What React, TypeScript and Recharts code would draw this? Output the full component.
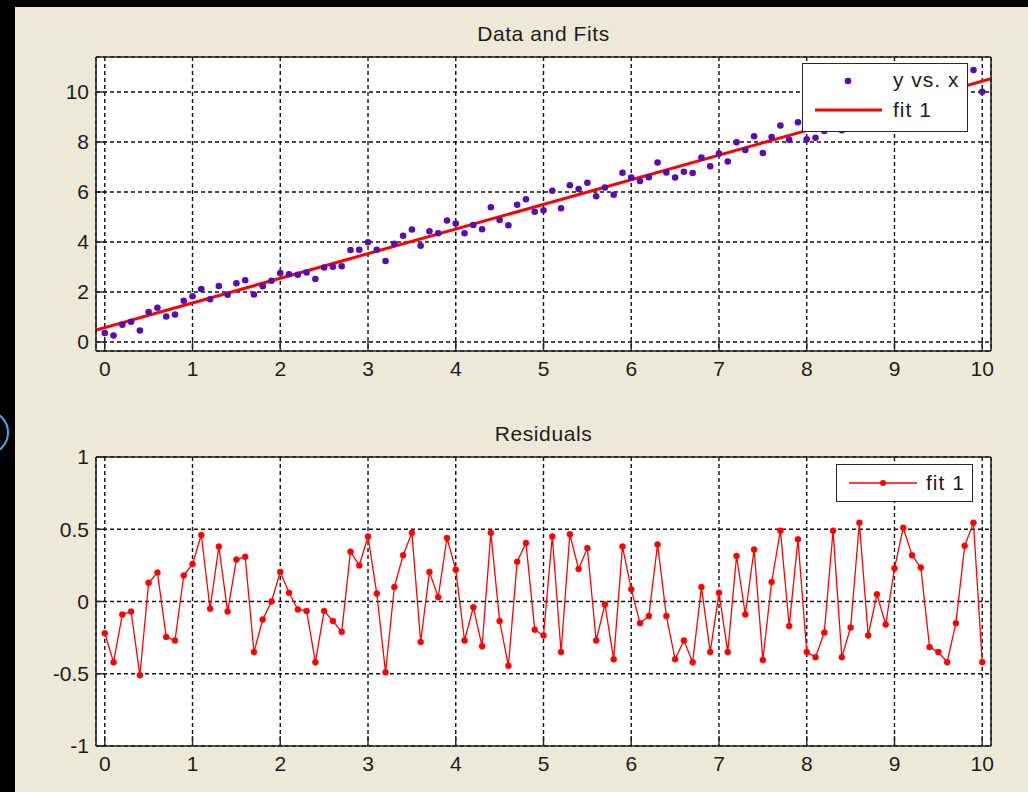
import { ComposedChart, Scatter, Line, XAxis, YAxis, CartesianGrid, Legend } from 'recharts';

const xValues = [
    0, 0.1, 0.2, 0.3, 0.4, 0.5, 0.6, 0.7, 0.8, 0.9,
    1, 1.1, 1.2, 1.3, 1.4, 1.5, 1.6, 1.7, 1.8, 1.9,
    2, 2.1, 2.2, 2.3, 2.4, 2.5, 2.6, 2.7, 2.8, 2.9,
    3, 3.1, 3.2, 3.3, 3.4, 3.5, 3.6, 3.7, 3.8, 3.9,
    4, 4.1, 4.2, 4.3, 4.4, 4.5, 4.6, 4.7, 4.8, 4.9,
    5, 5.1, 5.2, 5.3, 5.4, 5.5, 5.6, 5.7, 5.8, 5.9,
    6, 6.1, 6.2, 6.3, 6.4, 6.5, 6.6, 6.7, 6.8, 6.9,
    7, 7.1, 7.2, 7.3, 7.4, 7.5, 7.6, 7.7, 7.8, 7.9,
    8, 8.1, 8.2, 8.3, 8.4, 8.5, 8.6, 8.7, 8.8, 8.9,
    9, 9.1, 9.2, 9.3, 9.4, 9.5, 9.6, 9.7, 9.8, 9.9,
    10,
];

const yValues = [
    0.36, 0.26, 0.69, 0.81, 0.46, 1.2, 1.37, 1.02, 1.1, 1.65,
    1.83, 2.12, 1.71, 2.24, 1.89, 2.35, 2.47, 1.9, 2.23, 2.45,
    2.76, 2.71, 2.69, 2.78, 2.52, 2.98, 3.01, 3.03, 3.68, 3.69,
    3.99, 3.69, 3.24, 3.93, 4.25, 4.5, 3.85, 4.43, 4.35, 4.86,
    4.74, 4.35, 4.68, 4.51, 5.39, 4.88, 4.67, 5.49, 5.71, 5.21,
    5.27, 6.05, 5.35, 6.27, 6.12, 6.37, 5.83, 6.18, 5.89, 6.77,
    6.58, 6.44, 6.59, 7.18, 6.78, 6.58, 6.81, 6.76, 7.38, 7.03,
    7.54, 7.22, 7.99, 7.68, 8.23, 7.56, 8.2, 8.66, 8.09, 8.79,
    8.11, 8.17, 8.44, 9.25, 8.47, 8.77, 9.6, 8.92, 9.3, 9.19,
    9.68, 10.05, 9.96, 9.98, 9.52, 9.59, 9.62, 9.99, 10.62, 10.88,
    10.01,
];

const residuals = [
    -0.22, -0.42, -0.09, -0.07, -0.51, 0.13, 0.2, -0.245, -0.27, 0.18,
    0.26, 0.46, -0.05, 0.38, -0.07, 0.29, 0.31, -0.35, -0.125, 0,
    0.205, 0.06, -0.055, -0.065, -0.42, -0.065, -0.135, -0.21, 0.345, 0.25,
    0.45, 0.055, -0.49, 0.1, 0.32, 0.475, -0.28, 0.205, 0.03, 0.44,
    0.22, -0.27, -0.04, -0.31, 0.475, -0.135, -0.445, 0.275, 0.405, -0.195,
    -0.235, 0.45, -0.35, 0.465, 0.225, 0.37, -0.27, -0.02, -0.4, 0.38,
    0.085, -0.15, -0.1, 0.395, -0.1, -0.4, -0.27, -0.42, 0.1, -0.35,
    0.06, -0.35, 0.315, -0.09, 0.36, -0.405, 0.135, 0.49, -0.17, 0.43,
    -0.35, -0.385, -0.215, 0.49, -0.385, -0.18, 0.545, -0.235, 0.05, -0.16,
    0.23, 0.51, 0.32, 0.235, -0.315, -0.35, -0.42, -0.15, 0.385, 0.545,
    -0.42,
];

// fitted line, ends at the axis limits
const fitX = [-0.1, 10.1];
const fitY = [0.48, 10.53];

const xTicks = [0, 1, 2, 3, 4, 5, 6, 7, 8, 9, 10];
const dataTicks = [0, 2, 4, 6, 8, 10];
const residTicks = [-1, -0.5, 0, 0.5, 1];

const X_DOMAIN: [number, number] = [-0.1, 10.1];
const DATA_DOMAIN: [number, number] = [-0.36, 11.4];
const RESID_DOMAIN: [number, number] = [-1, 1];

const FONT = '"Liberation Sans", Arial, Helvetica, sans-serif';
const TEXT = '#1c1c1c';
const PURPLE = '#5a0cb4';
const RED = '#ff0000';
const FRAME = '#262626';
const tickStyle = { fontSize: 21, fill: TEXT, fontFamily: FONT };

const scatterData = xValues.map((x, i) => ({ x, y: yValues[i] }));
const fitData = fitX.map((x, i) => ({ x, y: fitY[i] }));
const residData = xValues.map((x, i) => ({ x, r: residuals[i] }));

const Dot = (props: any) => <circle cx={props.cx} cy={props.cy} r={3.3} fill={PURPLE} />;

const legendText = { position: 'absolute' as const, left: 90, lineHeight: '24px', letterSpacing: 1 };

function DataLegend() {
    return (
        <div style={{ position: 'relative', width: 166, height: 69, background: '#fff', border: `1px solid ${FRAME}`, boxSizing: 'border-box', fontFamily: FONT, fontSize: 21, color: TEXT }}>
            <svg width={164} height={67} style={{ position: 'absolute', left: 0, top: 0 }}>
                <circle cx={45} cy={17} r={3.3} fill={PURPLE} />
                <line x1={12} x2={79} y1={46} y2={46} stroke={RED} strokeWidth={3} />
            </svg>
            <span style={{ ...legendText, top: 4 }}>y vs. x</span>
            <span style={{ ...legendText, top: 34 }}>fit 1</span>
        </div>
    );
}

function ResidLegend() {
    return (
        <div style={{ position: 'relative', width: 137, height: 38, background: '#fff', border: `1px solid ${FRAME}`, boxSizing: 'border-box', fontFamily: FONT, fontSize: 21, color: TEXT }}>
            <svg width={135} height={36} style={{ position: 'absolute', left: 0, top: 0 }}>
                <line x1={12} x2={80} y1={18} y2={18} stroke={RED} strokeWidth={1.3} />
                <circle cx={46} cy={18} r={3} fill={RED} />
            </svg>
            <span style={{ ...legendText, left: 89, top: 6 }}>fit 1</span>
        </div>
    );
}

const titleStyle = { position: 'absolute' as const, left: 96, width: 895, textAlign: 'center' as const, fontFamily: FONT, fontSize: 21, color: TEXT, lineHeight: '24px', letterSpacing: 0.6 };

const axisLine = { stroke: FRAME, strokeWidth: 1.6 };
const tickLine = { stroke: FRAME, strokeWidth: 1.4 };

export default function App() {
    return (
        <div style={{ position: 'absolute', left: 0, top: 0, width: 1028, height: 792, background: '#000', overflow: 'hidden' }}>
            <div style={{ position: 'absolute', left: 15, top: 7, right: 0, bottom: 0, background: '#ece9d8' }} />
            <div style={{ position: 'absolute', left: -36, top: 410, width: 45, height: 45, borderRadius: '50%', border: '2px solid #41aeea', boxSizing: 'border-box' }} />

            <div style={{ ...titleStyle, top: 22 }}>Data and Fits</div>
            <div style={{ position: 'absolute', left: 0, top: 0 }}>
                <ComposedChart width={1028} height={400} margin={{ top: 56, right: 36, bottom: 9, left: 16 }}>
                    <CartesianGrid fill="#fff" stroke="#111" strokeWidth={1.4} strokeDasharray="4 3" />
                    <XAxis type="number" dataKey="x" domain={X_DOMAIN} ticks={xTicks} interval={0} height={40}
                        axisLine={axisLine} tickLine={tickLine} tickSize={-10} tickMargin={20} tick={tickStyle} allowDataOverflow />
                    <XAxis xAxisId="top" orientation="top" type="number" domain={X_DOMAIN} ticks={xTicks} interval={0} height={1}
                        axisLine={axisLine} tickLine={tickLine} tickSize={-10} tick={false} allowDataOverflow />
                    <YAxis type="number" domain={DATA_DOMAIN} ticks={dataTicks} interval={0} width={80}
                        axisLine={axisLine} tickLine={tickLine} tickSize={-10} tickMargin={17} tick={tickStyle} allowDataOverflow />
                    <YAxis yAxisId="right" orientation="right" type="number" domain={DATA_DOMAIN} ticks={dataTicks} interval={0} width={1}
                        axisLine={axisLine} tickLine={tickLine} tickSize={-10} tick={false} allowDataOverflow />
                    <Scatter name="y vs. x" data={scatterData} dataKey="y" fill={PURPLE} shape={Dot} isAnimationActive={false} />
                    <Line name="fit 1" data={fitData} dataKey="y" stroke={RED} strokeWidth={3} dot={false} isAnimationActive={false} />
                    <Legend verticalAlign="middle" layout="horizontal" content={() => <DataLegend />}
                        wrapperStyle={{ left: 802, top: 63, width: 166, height: 69 }} />
                </ComposedChart>
            </div>

            <div style={{ ...titleStyle, top: 422 }}>Residuals</div>
            <div style={{ position: 'absolute', left: 0, top: 400 }}>
                <ComposedChart width={1028} height={392} margin={{ top: 56, right: 36, bottom: 6, left: 16 }}>
                    <CartesianGrid fill="#fff" stroke="#111" strokeWidth={1.4} strokeDasharray="4 3" />
                    <XAxis type="number" dataKey="x" domain={X_DOMAIN} ticks={xTicks} interval={0} height={40}
                        axisLine={axisLine} tickLine={tickLine} tickSize={-10} tickMargin={20} tick={tickStyle} allowDataOverflow />
                    <XAxis xAxisId="top" orientation="top" type="number" domain={X_DOMAIN} ticks={xTicks} interval={0} height={1}
                        axisLine={axisLine} tickLine={tickLine} tickSize={-10} tick={false} allowDataOverflow />
                    <YAxis type="number" domain={RESID_DOMAIN} ticks={residTicks} interval={0} width={80}
                        axisLine={axisLine} tickLine={tickLine} tickSize={-10} tickMargin={17} tick={tickStyle} allowDataOverflow />
                    <YAxis yAxisId="right" orientation="right" type="number" domain={RESID_DOMAIN} ticks={residTicks} interval={0} width={1}
                        axisLine={axisLine} tickLine={tickLine} tickSize={-10} tick={false} allowDataOverflow />
                    <Line name="fit 1" data={residData} dataKey="r" stroke={RED} strokeWidth={1.3}
                        dot={{ r: 3, fill: RED, stroke: RED, strokeWidth: 0.5 }} isAnimationActive={false} />
                    <Legend verticalAlign="middle" layout="horizontal" content={() => <ResidLegend />}
                        wrapperStyle={{ left: 836, top: 64, width: 137, height: 38 }} />
                </ComposedChart>
            </div>
        </div>
    );
}
